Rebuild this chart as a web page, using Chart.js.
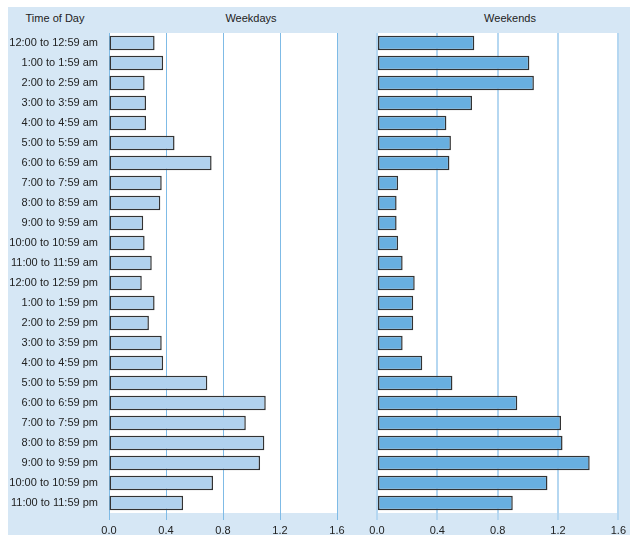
<!DOCTYPE html>
<html>
<head>
<meta charset="utf-8">
<script src="https://cdn.jsdelivr.net/npm/chart.js@4.4.1/dist/chart.umd.min.js"></script>
<style>
    body { margin: 0; background: #fff; width: 630px; height: 535px; overflow: hidden; position: relative; font-family: "Liberation Sans", Arial, sans-serif; }
    #panel { position: absolute; left: 8px; top: 7px; width: 622px; height: 528px; background: #d6e7f5; }
    .head { position: absolute; top: 12px; font-size: 11px; color: #222; transform: translateX(-50%); white-space: nowrap; }
    canvas { position: absolute; top: 0; }
</style>
</head>
<body>
<div id="panel"></div>
<div class="head" style="left:55px">Time of Day</div>
<div class="head" style="left:251px">Weekdays</div>
<div class="head" style="left:510px">Weekends</div>
<canvas id="leftChart" style="left:0px" width="360" height="535"></canvas>
<canvas id="rightChart" style="left:360px" width="270" height="535"></canvas>
<script>
const hours = [
    '12:00 to 12:59 am', '1:00 to 1:59 am', '2:00 to 2:59 am', '3:00 to 3:59 am',
    '4:00 to 4:59 am', '5:00 to 5:59 am', '6:00 to 6:59 am', '7:00 to 7:59 am',
    '8:00 to 8:59 am', '9:00 to 9:59 am', '10:00 to 10:59 am', '11:00 to 11:59 am',
    '12:00 to 12:59 pm', '1:00 to 1:59 pm', '2:00 to 2:59 pm', '3:00 to 3:59 pm',
    '4:00 to 4:59 pm', '5:00 to 5:59 pm', '6:00 to 6:59 pm', '7:00 to 7:59 pm',
    '8:00 to 8:59 pm', '9:00 to 9:59 pm', '10:00 to 10:59 pm', '11:00 to 11:59 pm'
];
const weekdays = [0.32, 0.38, 0.25, 0.26, 0.26, 0.46, 0.72, 0.37, 0.36, 0.24, 0.25, 0.30,
                  0.23, 0.32, 0.28, 0.37, 0.38, 0.69, 1.10, 0.96, 1.09, 1.06, 0.73, 0.52];
const weekends = [0.645, 1.01, 1.04, 0.63, 0.46, 0.49, 0.48, 0.14, 0.13, 0.13, 0.14, 0.17,
                  0.25, 0.24, 0.24, 0.17, 0.30, 0.50, 0.93, 1.22, 1.23, 1.41, 1.13, 0.90];
const xTicks = [0, 0.4, 0.8, 1.2, 1.6];

const fontFam = '"Liberation Sans", Arial, sans-serif';

// fond blanc de la zone de tracé
const whiteArea = {
    id: 'whiteArea',
    beforeDraw(chart) {
        const a = chart.chartArea;
        const ctx = chart.ctx;
        ctx.save();
        ctx.fillStyle = '#ffffff';
        ctx.fillRect(a.left, a.top, a.right - a.left, a.bottom - a.top);
        ctx.restore();
    }
};

function makeChart(id, values, fill, gridColor, gridWidth, showLabels, padding) {
    return new Chart(document.getElementById(id), {
        type: 'bar',
        data: {
            labels: hours,
            datasets: [{
                data: values,
                backgroundColor: fill,
                borderColor: '#333333',
                borderWidth: 1.5,
                borderSkipped: false,
                categoryPercentage: 1,
                barPercentage: 0.72
            }]
        },
        options: {
            indexAxis: 'y',
            responsive: false,
            animation: false,
            layout: { padding: padding },
            plugins: { legend: { display: false }, tooltip: { enabled: false } },
            scales: {
                x: {
                    min: 0, max: 1.6,
                    afterBuildTicks(scale) { scale.ticks = xTicks.map(v => ({ value: v })); },
                    afterFit(scale) { scale.height = 22; },
                    border: { display: false },
                    grid: { color: gridColor, lineWidth: gridWidth, tickLength: 7, tickColor: gridColor },
                    ticks: { padding: 4, color: '#222', font: { family: fontFam, size: 11 },
                             callback: v => v.toFixed(1), maxRotation: 0 }
                },
                y: {
                    display: showLabels,
                    afterFit(scale) { if (showLabels) scale.width = 109; },
                    border: { display: false },
                    grid: { display: false, drawTicks: false },
                    ticks: { padding: 11, color: '#222', font: { family: fontFam, size: 11 } }
                }
            }
        },
        plugins: [whiteArea]
    });
}

makeChart('leftChart', weekdays, '#b1d2ee', '#7fbbe6', 1, true, { top: 33, right: 23, bottom: 0, left: 0 });
makeChart('rightChart', weekends, '#68afe0', '#b5d7f1', 2, false, { top: 33, right: 11, bottom: 0, left: 17 });
</script>
</body>
</html>
